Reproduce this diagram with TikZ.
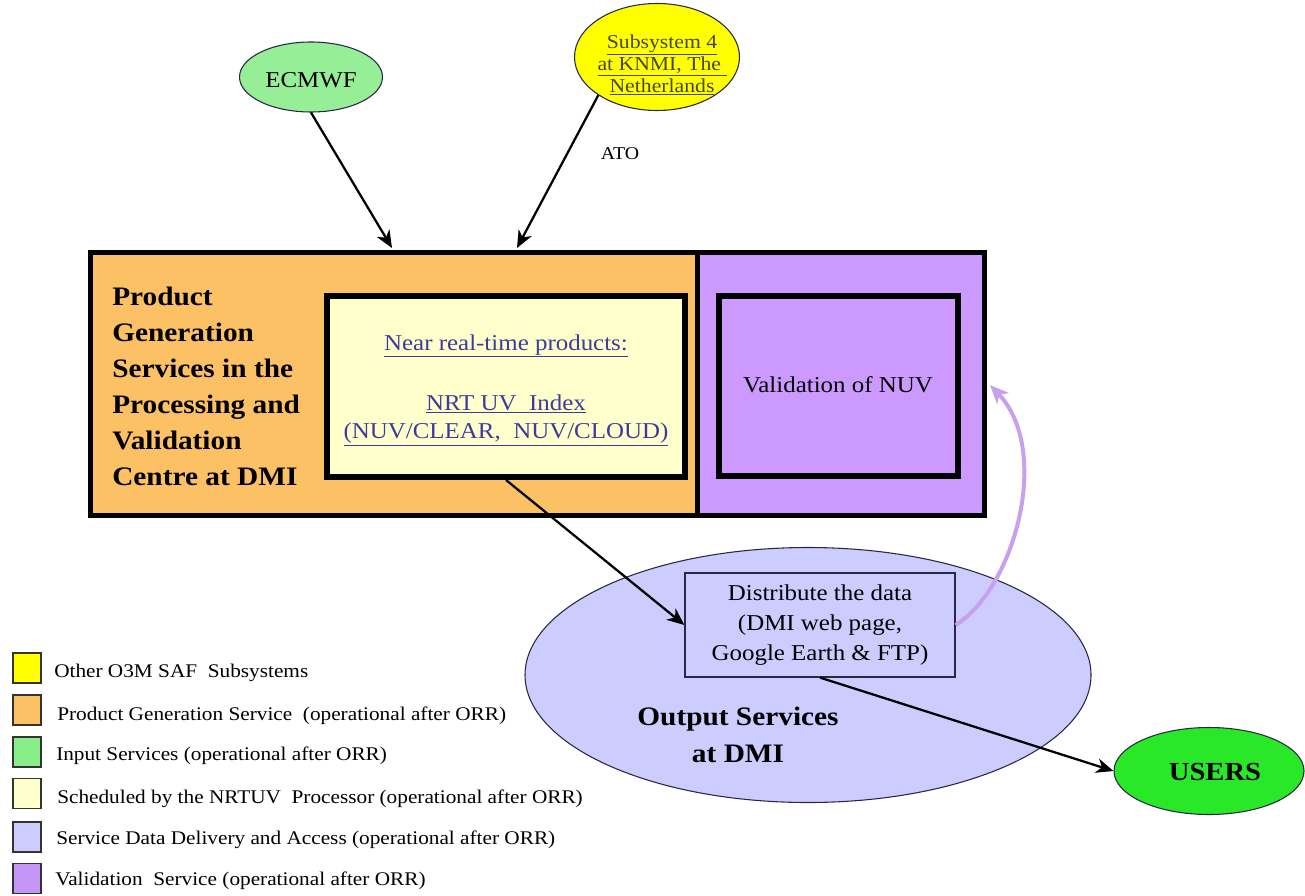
\documentclass[tikz,border=0pt]{standalone}
\usepackage{fontspec}
\setmainfont{Liberation Serif}[FakeStretch=1.1]
\usetikzlibrary{arrows.meta,fit,shapes.geometric}
\newcommand{\pxu}{0.75pt}
\definecolor{orng}{RGB}{251,193,100}
\definecolor{paley}{RGB}{255,255,204}
\definecolor{lav}{RGB}{204,204,255}
\definecolor{purp}{RGB}{204,153,255}
\definecolor{legpurp}{RGB}{196,150,248}
\definecolor{ecgreen}{RGB}{150,238,150}
\definecolor{leggreen}{RGB}{136,238,136}
\definecolor{usergreen}{RGB}{40,232,40}
\definecolor{yel}{RGB}{255,255,0}
\definecolor{linkblue}{RGB}{60,60,160}
\definecolor{linkdark}{RGB}{70,70,60}
\definecolor{arcviolet}{RGB}{200,160,240}
\definecolor{edgedark}{RGB}{40,40,70}
\begin{document}
\begin{tikzpicture}[x=0.75pt,y=-0.75pt,
  bigbox/.style={draw=black, line width=3.75pt, inner sep=0pt},
  innerbox/.style={draw=black, line width=4.5pt, inner sep=0pt},
  conn/.style={line width=1.7pt, -{Stealth[length=13pt,width=11pt,inset=4pt]}},
  arcconn/.style={draw=arcviolet, line width=3pt, -{Stealth[length=14pt,width=12pt,inset=4pt]}},
  legsq/.style={draw=black!80, line width=0.8pt, minimum width=28*\pxu, minimum height=30*\pxu, inner sep=0pt},
  legtxt/.style={anchor=base west, inner sep=0pt, font=\fontsize{14.5}{17}\selectfont},
  oval/.style={ellipse, draw=edgedark, line width=0.8pt, inner sep=0pt}
]
\useasboundingbox (0,0) rectangle (1305,895);

% top ellipses
\node[oval, fill=ecgreen, minimum width=143*\pxu, minimum height=70*\pxu] (ecmwf) at (311,77) {};
\node[inner sep=0pt, font=\fontsize{17}{20}\selectfont] (ectxt) at (311,80) {ECMWF};
\node[oval, fill=yel, minimum width=165*\pxu, minimum height=107*\pxu] (sub) at (657,57) {};
\node[align=center, inner sep=0pt, text=linkdark, font=\fontsize{14.8}{16.5}\selectfont]
      (subtxt) at (662,65) {\underline{Subsystem 4}\\\underline{at KNMI, The\ }\\\underline{Netherlands}};
\node[anchor=base, inner sep=0pt, font=\fontsize{13.5}{16}\selectfont] (ato) at (620,160) {ATO};

% main boxes
\node[bigbox, fill=orng, fit={(90,252) (697,515)}] (pgs) {};
\node[bigbox, fill=purp, fit={(697,252) (984,515)}] (val) {};
\node[innerbox, fill=paley, fit={(327,296) (685,477)}] (nrtbox) {};
\node[innerbox, fill=purp, fit={(719,296) (958,476)}] (valbox) {};

\node[anchor=west, align=left, inner sep=0pt, font=\fontsize{20}{27}\selectfont\bfseries]
      (pgstxt) at (112,386) {Product\\Generation\\Services in the\\Processing and\\Validation\\Centre at DMI};
\node[anchor=base, inner sep=0pt, text=linkblue, font=\fontsize{17}{21}\selectfont]
      (nrthead) at (506,350) {\underline{Near real-time products:}};
\node[align=center, inner sep=0pt, text=linkblue, font=\fontsize{17}{21}\selectfont]
      (nrtprod) at (506,420) {\underline{NRT UV\ \ Index}\\\underline{(NUV/CLEAR,\ \ NUV/CLOUD)}};
\node[anchor=base, inner sep=0pt, font=\fontsize{17}{21}\selectfont] (valtxt) at (838,392) {Validation of NUV};

% output services
\node[oval, fill=lav, minimum width=566*\pxu, minimum height=255*\pxu] (outsvc) at (808,675) {};
\node[draw=edgedark, line width=0.9pt, fill=lav, minimum width=270*\pxu, minimum height=104*\pxu,
      inner sep=0pt, align=center, font=\fontsize{17}{22.5}\selectfont]
      (dist) at (820,625) {Distribute the data\\(DMI web page,\\Google Earth \& FTP)};
\node[align=center, inner sep=0pt, font=\fontsize{20}{27.75}\selectfont\bfseries]
      (outtxt) at (738,735) {Output Services\\at DMI};

% users
\node[oval, fill=usergreen, minimum width=190*\pxu, minimum height=87*\pxu] (users) at (1209,771) {};
\node[inner sep=0pt, font=\fontsize{19.5}{22}\selectfont\bfseries] (usertxt) at (1215,772) {USERS};

% connectors
\coordinate (in1) at (392,248);
\coordinate (in2) at (517,248);
\coordinate (valin) at (990,385);
\draw[conn] (ecmwf.south) -- (in1);
\draw[conn] (sub.south west) -- (in2);
\draw[conn] (nrtbox.south) -- (dist.west);
\draw[conn] (dist.south) -- (users.west);
\draw[arcconn] (dist.east) .. controls (1015,588) and (1052,450) .. (valin);

% legend
\node[legsq, fill=yel] (lg1) at (27,668) {};
\node[legsq, fill=orng] (lg2) at (27,710) {};
\node[legsq, fill=leggreen] (lg3) at (27,752) {};
\node[legsq, fill=paley] (lg4) at (27,793.5) {};
\node[legsq, fill=lav] (lg5) at (27,837) {};
\node[legsq, fill=legpurp] (lg6) at (27,878.5) {};
\node[legtxt] (lt1) at (54,677) {Other O3M SAF\ \ Subsystems};
\node[legtxt] (lt2) at (57,720) {Product Generation Service\ \ (operational after ORR)};
\node[legtxt] (lt3) at (56,760) {Input Services (operational after ORR)};
\node[legtxt] (lt4) at (57,803) {Scheduled by the NRTUV\ \ Processor (operational after ORR)};
\node[legtxt] (lt5) at (56,844) {Service Data Delivery and Access (operational after ORR)};
\node[legtxt] (lt6) at (55,885) {Validation\ \ Service (operational after ORR)};
\end{tikzpicture}
\end{document}
